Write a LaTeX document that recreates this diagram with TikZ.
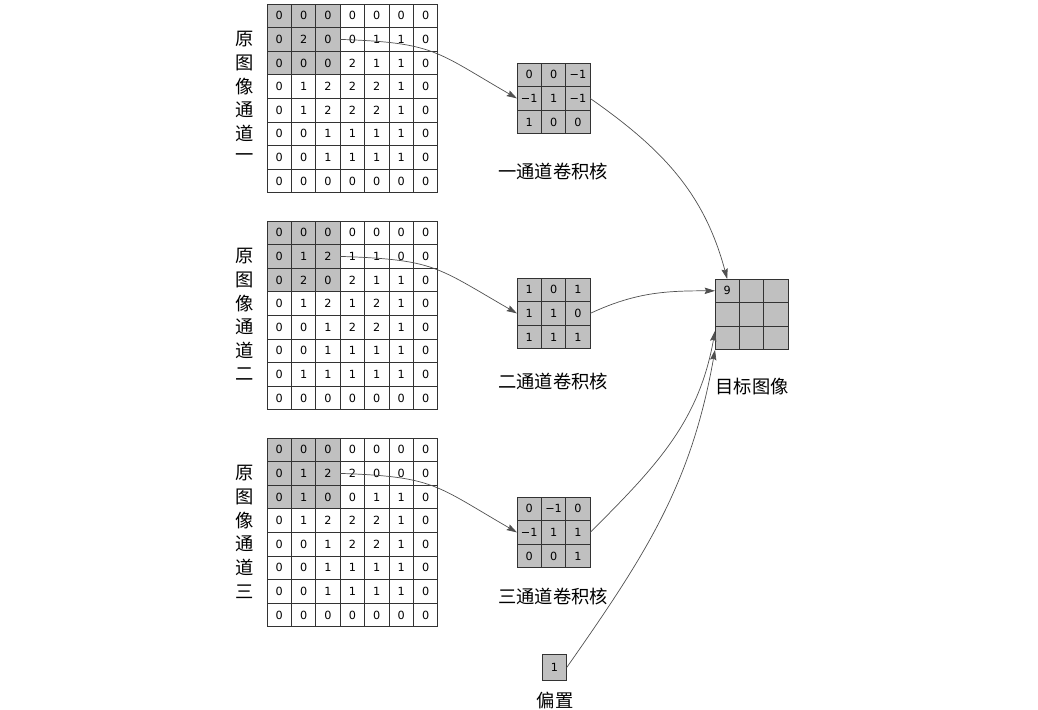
\documentclass[tikz,border=0pt]{standalone}
\usepackage{fontspec}
\setmainfont{DejaVu Sans}
\newfontfamily\cjk{Noto Sans CJK SC}
\usepackage{xcolor}
\definecolor{cellgray}{RGB}{192,192,192}
\definecolor{linkgray}{RGB}{80,80,80}
\usetikzlibrary{arrows.meta}

\tikzset{
  cell/.style={draw=black!80, line width=0.6pt, minimum width=6.1mm, minimum height=5.9mm,
               inner sep=0pt, outer sep=0pt, font=\fontsize{8}{9}\selectfont},
  cjklabel/.style={font=\cjk\fontsize{13}{15}\selectfont, inner sep=1pt},
  link/.style={-{Stealth[length=2.6mm, width=1.6mm, inset=0.4mm]}, draw=linkgray, line width=0.5pt},
}

% grid of cells: name, left, top, size of the shaded corner, rows
\newcommand{\cellgrid}[5]{%
  \foreach \rowvals [count=\r] in {#5} {
    \foreach \v [count=\c] in \rowvals {
      \ifnum\r>#4 \def\cf{white}\else\ifnum\c>#4 \def\cf{white}\else\def\cf{cellgray}\fi\fi
      \node[cell, fill=\cf] (#1-\r-\c) at ({#2+(\c-0.5)*24.4}, {#3+(\r-0.5)*23.6}) {\v};
    }
  }
}

\begin{document}
\begin{tikzpicture}[x=0.25mm, y=-0.25mm]
\useasboundingbox (0,0) rectangle (1038,709);

% --- Channel 1 ---
\cellgrid{g1}{267}{4}{3}{{0,0,0,0,0,0,0},{0,2,0,0,1,1,0},{0,0,0,2,1,1,0},{0,1,2,2,2,1,0},
  {0,1,2,2,2,1,0},{0,0,1,1,1,1,0},{0,0,1,1,1,1,0},{0,0,0,0,0,0,0}}
\foreach \ch [count=\i] in {原,图,像,通,道,一}
  \node[cjklabel] (lab1-\i) at (245, {4+(\i+0.5)*23.6}) {\ch};

% --- Channel 2 ---
\cellgrid{g2}{267}{221}{3}{{0,0,0,0,0,0,0},{0,1,2,1,1,0,0},{0,2,0,2,1,1,0},{0,1,2,1,2,1,0},
  {0,0,1,2,2,1,0},{0,0,1,1,1,1,0},{0,1,1,1,1,1,0},{0,0,0,0,0,0,0}}
\foreach \ch [count=\i] in {原,图,像,通,道,二}
  \node[cjklabel] (lab2-\i) at (245, {221+(\i+0.5)*23.6}) {\ch};

% --- Channel 3 ---
\cellgrid{g3}{267}{438}{3}{{0,0,0,0,0,0,0},{0,1,2,2,0,0,0},{0,1,0,0,1,1,0},{0,1,2,2,2,1,0},
  {0,0,1,2,2,1,0},{0,0,1,1,1,1,0},{0,0,1,1,1,1,0},{0,0,0,0,0,0,0}}
\foreach \ch [count=\i] in {原,图,像,通,道,三}
  \node[cjklabel] (lab3-\i) at (245, {438+(\i+0.5)*23.6}) {\ch};

% --- Kernels ---
\cellgrid{k1}{517}{63}{3}{{0,0,−1},{−1,1,−1},{1,0,0}}
\node[cjklabel] (k1-lab) at (553,172) {一通道卷积核};

\cellgrid{k2}{517}{278}{3}{{1,0,1},{1,1,0},{1,1,1}}
\node[cjklabel] (k2-lab) at (553,382) {二通道卷积核};

\cellgrid{k3}{517}{497}{3}{{0,−1,0},{−1,1,1},{0,0,1}}
\node[cjklabel] (k3-lab) at (553,597) {三通道卷积核};

% --- Target and bias ---
\cellgrid{t}{715}{279}{3}{{9,{},{}},{{},{},{}},{{},{},{}}}
\node[cjklabel] (t-lab) at (752,387) {目标图像};

\node[cell, fill=cellgray, minimum height=6.6mm] (bias) at (554.5,667.5) {1};
\node[cjklabel] (bias-lab) at (555,700) {偏置};

% --- Connections ---
\draw[link] (g1-2-3.east) to[out=-2, in=150, looseness=1.3] (k1-2-1.west);
\draw[link] (g2-2-3.east) to[out=-2, in=150, looseness=1.3] (k2-2-1.west);
\draw[link] (g3-2-3.east) to[out=-2, in=150, looseness=1.3] (k3-2-1.west);

\draw[link] (k1-2-3.east) to[out=-35, in=105] (t-1-1.north);
\draw[link] (k2-2-3.east) to[out=25, in=180] (t-1-1.west);
\draw[link] (k3-2-3.east) to[out=45, in=-100] (t-3-1.150);
\draw[link] (bias.east) to[out=55, in=-100] (t-3-1.south west);

\end{tikzpicture}
\end{document}
